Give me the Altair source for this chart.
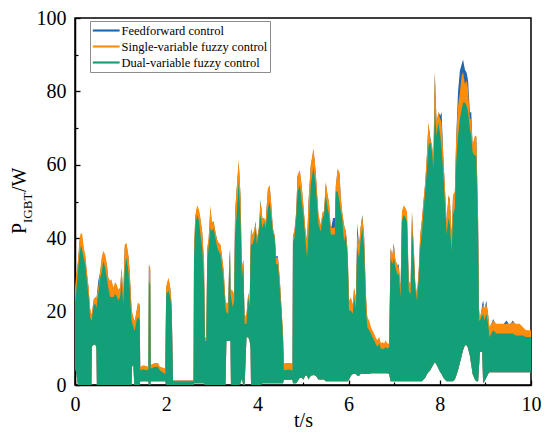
import altair as alt
import pandas as pd

# time axis (s)
t = [
    0.00, 0.03, 0.065, 0.10, 0.13, 0.16, 0.19, 0.225, 0.26, 0.30,
    0.33, 0.36, 0.37, 0.41, 0.45, 0.47, 0.48, 0.51, 0.55, 0.59,
    0.62, 0.66, 0.70, 0.73, 0.77, 0.80, 0.84, 0.88, 0.91, 0.95,
    0.99, 1.02, 1.06, 1.09, 1.13, 1.17, 1.20, 1.24, 1.25, 1.28,
    1.30, 1.31, 1.35, 1.38, 1.42, 1.43, 1.50, 1.56, 1.61, 1.62,
    1.65, 1.66, 1.75, 1.82, 1.86, 1.92, 1.98, 2.00, 2.05, 2.09,
    2.12, 2.15, 2.60, 2.61, 2.64, 2.68, 2.72, 2.75, 2.79, 2.83,
    2.85, 2.88, 2.90, 2.93, 2.97, 3.00, 3.04, 3.08, 3.12, 3.15,
    3.19, 3.22, 3.26, 3.30, 3.32, 3.36, 3.38, 3.40, 3.41, 3.42,
    3.46, 3.49, 3.51, 3.54, 3.59, 3.63, 3.66, 3.69, 3.72, 3.76,
    3.80, 3.83, 3.85, 3.86, 3.89, 3.93, 3.96, 3.99, 4.03, 4.07,
    4.11, 4.15, 4.18, 4.23, 4.27, 4.30, 4.34, 4.38, 4.41, 4.45,
    4.49, 4.52, 4.56, 4.58, 4.68, 4.77, 4.78, 4.81, 4.85, 4.88,
    4.93, 4.97, 5.01, 5.05, 5.09, 5.12, 5.17, 5.23, 5.28, 5.34,
    5.39, 5.43, 5.46, 5.50, 5.54, 5.57, 5.61, 5.66, 5.70, 5.72,
    5.76, 5.80, 5.83, 5.86, 5.90, 5.94, 5.98, 6.01, 6.05, 6.09,
    6.12, 6.16, 6.19, 6.23, 6.26, 6.30, 6.34, 6.38, 6.41, 6.45,
    6.49, 6.52, 6.56, 6.59, 6.63, 6.67, 6.71, 6.74, 6.78, 6.81,
    6.85, 6.89, 6.92, 6.96, 6.99, 7.03, 7.07, 7.10, 7.14, 7.17,
    7.21, 7.25, 7.28, 7.32, 7.36, 7.39, 7.43, 7.46, 7.50, 7.54,
    7.57, 7.61, 7.64, 7.68, 7.72, 7.75, 7.79, 7.83, 7.86, 7.89,
    7.93, 7.97, 8.01, 8.04, 8.08, 8.11, 8.15, 8.19, 8.22, 8.26,
    8.29, 8.33, 8.36, 8.40, 8.44, 8.48, 8.51, 8.55, 8.59, 8.62,
    8.66, 8.69, 8.72, 8.77, 8.80, 8.84, 8.86, 8.88, 8.91, 8.93,
    8.95, 8.98, 9.02, 9.06, 9.09, 9.17, 9.24, 9.31, 9.38, 9.46,
    9.53, 9.60, 9.67, 9.75, 9.82, 9.89, 10.0,
]

# upper envelope of the dual-variable fuzzy control trace (W)
green_hi = [
    22, 26, 31, 36, 38, 36.5, 34.7, 33, 28.4, 24,
    18.5, 17.6, 17.8, 22, 22, 21, 22, 25, 29, 31,
    33.8, 32, 29, 26.6, 24, 24, 24, 24.8, 24.3, 23,
    24, 28.4, 22, 32, 34.7, 31, 26.6, 17.6, 17, 15.8,
    15, 14.9, 17.6, 18.5, 17.6, 4, 4.3, 4, 4.2, 28.4,
    27, 4.5, 5, 5, 4, 3.5, 3, 24.8, 25.7, 23.9,
    20, 1, 1, 34.7, 43.7, 46.4, 44.6, 41, 37.4, 28.4,
    12, 12, 33.8, 37.4, 42.8, 41.9, 42.8, 40, 37.4, 36.5,
    35.6, 32.9, 28.4, 21.2, 19.8, 19.4, 30, 36.5, 24.8, 24,
    21.2, 23, 41, 45.5, 55.4, 45.5, 29.3, 32.9, 16.7, 16.7,
    23.9, 21.2, 35, 38.3, 38.3, 40, 42.8, 38.3, 41.9, 46.4,
    42.8, 44.6, 42.8, 48.2, 50, 46.4, 41.9, 40, 32.9, 32.9,
    26.6, 21.2, 13, 4, 4.2, 4, 39.2, 40, 45.5, 52.7,
    54.5, 50, 46.4, 40, 34.7, 41, 54.5, 59.5, 54.5, 43.7,
    41.9, 45.5, 46.4, 51.8, 48.2, 46.4, 41, 41, 41, 52.7,
    52.7, 50, 47.3, 45.5, 39.2, 41, 33.8, 20.3, 20.3, 19.4,
    23.9, 21.2, 37.4, 34.7, 39.2, 42.8, 37.4, 21.2, 15.8, 14.9,
    14, 13.1, 12.2, 11.3, 10.4, 11.3, 9.9, 9.9, 9.9, 10.4,
    9.9, 10.4, 34.7, 32.9, 34.7, 32, 30.2, 30.2, 23.9, 44.6,
    46.4, 45.5, 44.6, 25.7, 24.8, 42.8, 34.7, 26.6, 23, 29.3,
    37.4, 41.9, 47.3, 52.7, 59, 65.3, 66.2, 63.5, 59, 75,
    68, 71.6, 68, 64.4, 57.2, 50, 41, 45.5, 43.7, 36.5,
    46.4, 48.2, 60.8, 68, 72.5, 75.2, 77, 77, 76, 74.3,
    69.8, 68, 63.4, 62.5, 62.5, 41, 17.6, 17.6, 18.5, 19,
    19.4, 17.6, 19.4, 16.7, 13.1, 14.9, 14, 14, 14, 14,
    14, 14, 13.5, 13.5, 13.5, 13.1, 13.1,
]

# upper envelope of the single-variable fuzzy control trace (W)
orange_hi = [
    26, 31, 34, 40, 41.5, 41, 37.4, 35.6, 31, 26.6,
    21, 19.4, 19.6, 23.4, 23.9, 23.9, 24.5, 26.6, 31, 35,
    36.5, 35.6, 33, 29.3, 28.4, 28.8, 26.6, 28, 27.5, 26,
    26.6, 32, 25.2, 38.3, 38.7, 35.6, 31, 21.2, 20, 18.5,
    17.8, 17.6, 20.3, 22.5, 22, 5, 5.4, 5.2, 5, 33,
    32, 5.5, 6, 6, 5, 4.8, 4.5, 27, 29.3, 26.6,
    22, 1.2, 1.2, 37.4, 46.4, 49, 47.7, 45.5, 41.9, 33.8,
    13, 13, 37.4, 40, 49, 44.6, 44.2, 41.9, 39.2, 38.8,
    38.3, 35.6, 31.5, 23, 22.3, 22.5, 33, 36.5, 27, 26,
    25.7, 24.8, 47.3, 52.7, 61.3, 51.8, 32, 34, 18.5, 19.4,
    24.8, 22, 38.5, 42, 41, 42.3, 44.2, 40, 42.8, 50,
    45.5, 45.5, 44.6, 53.6, 54.5, 50, 42.8, 40.9, 34.7, 34.7,
    29.3, 23, 14.5, 5.9, 6, 5.9, 41, 41.9, 47.3, 57.2,
    58.6, 54.5, 49, 42.8, 39.2, 50, 60, 64.5, 58.1, 46.4,
    43.7, 47.3, 47.3, 55.4, 51.8, 50, 42.8, 42.8, 43, 54.5,
    59, 58, 51, 47.3, 43.7, 41.9, 36.5, 23, 23.9, 22,
    26.6, 23.9, 41, 38.3, 42.8, 45.9, 41, 24.8, 18.5, 17.6,
    15.8, 14.9, 14, 13.1, 12.2, 13.1, 11.3, 11.7, 11.3, 12.2,
    11.3, 11.3, 37.4, 35.6, 38.3, 33.8, 32.9, 32, 26.6, 47.3,
    49, 48.2, 47.3, 28.4, 27.5, 47.3, 37.4, 28.4, 24.8, 32,
    41, 45.5, 50, 55.4, 63.5, 71.6, 67.1, 65.3, 61.7, 85.5,
    71.6, 74.3, 72.5, 71.6, 61.7, 54.5, 44.6, 51.8, 50.9, 41,
    51.8, 52.7, 68, 76, 79.7, 84.4, 85.3, 82, 83, 80.6,
    72.5, 72.5, 65.5, 67.9, 67.9, 45.5, 21, 18.5, 20.3, 21,
    22, 21, 22, 19.4, 15.8, 17.6, 16.7, 16.7, 16.7, 16.7,
    16.7, 17.1, 16.7, 16.7, 15.8, 14.9, 14.9,
]

# upper envelope of the feedforward control trace (W)
blue_hi = [
    25, 30, 33, 39, 40.5, 40, 37, 35, 30.5, 26,
    20.5, 19, 19.2, 23, 24, 23.4, 24.5, 28.4, 30.5, 34.5,
    36, 35, 32.5, 29, 28, 28.3, 26.2, 27.5, 27, 25.5,
    26.2, 31.5, 24.8, 37.5, 38.2, 35, 30.5, 20.8, 19.6, 18.1,
    17.4, 17.2, 19.9, 22, 21.5, 4.8, 5.1, 5, 4.9, 32.5,
    31.5, 5.3, 5.8, 5.8, 4.8, 4.6, 4.3, 26.5, 28.8, 26.2,
    21.6, 1.2, 1.2, 37, 46, 48.5, 47.2, 45, 41.4, 33.3,
    12.8, 12.8, 37, 39.5, 48, 44.2, 44.6, 41.5, 39.5, 38.4,
    38, 35.2, 31, 22.6, 22, 22.1, 32.5, 37.4, 26.6, 25.6,
    25.3, 24.4, 46.8, 52.2, 60.8, 51.3, 31.6, 34.2, 18.1, 19,
    25.2, 21.6, 38, 42.8, 40.6, 41.9, 44.6, 39.6, 42.4, 50.5,
    45.1, 45.1, 44.2, 53.2, 54.1, 49.6, 42.4, 40.5, 35.1, 35.1,
    28.9, 22.6, 14.1, 5.5, 5.6, 5.5, 40.6, 41.5, 46.9, 56.8,
    58.2, 54.1, 48.6, 42.4, 38.8, 49.6, 59.6, 64, 57.7, 46,
    43.3, 46.9, 46.9, 55, 51.4, 49.6, 42.4, 45.5, 45.5, 54.1,
    58.6, 57.6, 50.6, 46.9, 43.3, 41.9, 36.1, 22.6, 23.5, 21.6,
    26.2, 23.5, 44.1, 37.9, 42.4, 46.4, 40.6, 24.4, 18.1, 17.2,
    15.4, 14.5, 13.6, 12.7, 11.8, 12.7, 10.9, 11.3, 10.9, 11.8,
    10.9, 10.9, 37, 35.2, 38.7, 33.4, 32.5, 32.9, 26.2, 46.9,
    48.6, 47.8, 46.9, 28, 27.1, 46.9, 37, 28, 24.4, 31.6,
    40.6, 45.1, 49.6, 55, 63.1, 71.2, 67.6, 64.9, 61.3, 85,
    71.2, 74.3, 73.4, 74.3, 61.3, 54.1, 44.2, 51.4, 50.5, 40.6,
    51.4, 52.3, 67.6, 80, 85.6, 87.4, 88.7, 86, 85, 83,
    74.3, 74.3, 65, 67.5, 67.5, 45.1, 20.6, 17.6, 19.9, 22,
    23, 20.6, 23, 19, 15.4, 18, 16.3, 16.3, 16.3, 17.6,
    16.3, 17.6, 16.3, 16.3, 15.4, 14.5, 14.5,
]

# lower envelope of the oscillating traces (W)
lower = [
    5, 3, 0, 0, 0, 0, 0, 0, 0, 0,
    0, 0, 10.5, 11, 11, 10, 0, 0, 0, 0,
    0, 0, 0, 0, 0, 0, 0, 0, 0, 0,
    0, 0, 0, 0, 0, 0, 0, 0, 5, 5.5,
    0, 0, 0, 0, 0, 1, 1, 1, 1, 0,
    0, 1, 1, 1, 1, 1, 1, 0, 0, 0,
    0, 0, 0, 0.5, 0.5, 0.5, 0.5, 0.5, 0.5, 0.5,
    0, 0, 0, 0, 0, 0, 0, 0, 0, 0,
    0, 0, 0, 0, 12, 12, 12, 12, 12, 0,
    0, 0, 0, 0, 0, 0.5, 1.8, 0, 0, 13,
    13, 12, 10, 0, 0, 0, 0, 0, 0, 0,
    0.5, 0.5, 0.5, 0.5, 0.5, 0.5, 0.5, 0.5, 0.5, 0.5,
    0.5, 0.5, 0.5, 1.4, 1.4, 1.4, 0.5, 0.5, 0.5, 1,
    2, 2, 1.5, 2.5, 2.5, 1.5, 2.5, 2.7, 2.5, 1.5,
    1.5, 1.5, 1.5, 1, 1, 1, 1, 1, 1, 1,
    1, 1, 1, 1, 1, 1, 1, 1.5, 2.5, 3,
    3, 3, 2.5, 2.5, 3, 3, 3, 3, 3, 3,
    3.2, 3.2, 3.2, 3.2, 3.2, 3.2, 3.2, 3.2, 3.2, 3.2,
    3.2, 3, 1, 1, 1, 1, 1, 1, 1, 1,
    1, 1, 1, 1, 1, 1, 1, 1, 1, 1,
    1, 1, 1.5, 2, 3, 3.5, 4, 5, 5.5, 6.3,
    5.5, 4.5, 3.5, 3, 2, 1.5, 1, 1, 1, 1,
    1, 1.5, 2.5, 4, 6, 8, 9.5, 10.8, 10.8, 10,
    8, 5.5, 3, 1.5, 1, 1, 5, 9, 9, 9,
    0.5, 1, 2, 3, 3.5, 3.5, 3.5, 3.5, 3.5, 3.5,
    3.5, 3.5, 3.5, 3.5, 3.5, 3.5, 3.5,
]

names = ["Feedforward control", "Single-variable fuzzy control", "Dual-variable fuzzy control"]
colors = ["#1f67b1", "#ff8c0a", "#13a079"]
x_ticks = [0, 2, 4, 6, 8, 10]
x_minor = [1, 3, 5, 7, 9]
y_ticks = [0, 20, 40, 60, 80, 100]
y_minor = [10, 30, 50, 70, 90]

assert len(t) == len(green_hi) == len(orange_hi) == len(blue_hi) == len(lower)

rows = []
for name, hi in zip(names, [blue_hi, orange_hi, green_hi]):
    for ti, h, lo in zip(t, hi, lower):
        rows.append({"series": name, "t": ti, "hi": h, "lo": lo})
df = pd.DataFrame(rows)

serif = "Liberation Serif"
W, H = 456, 367
xs = alt.Scale(domain=[0, 10], nice=False, zero=False)
ys = alt.Scale(domain=[0, 100], nice=False)
cs = alt.Scale(domain=names, range=colors)

leg = alt.Legend(
    title=None, orient="none", legendX=15, legendY=3, direction="vertical",
    symbolType="M-1,-0.16H3V0.16H-1Z", symbolSize=180, symbolStrokeWidth=0,
    symbolOpacity=1, labelFont=serif, labelFontSize=12.5, labelColor="black",
    labelFontWeight="normal", labelOffset=15, labelLimit=400, rowPadding=2,
    padding=2.5, strokeColor="#8c8c8c", fillColor="white",
)

ax_x_main = alt.Axis(
    orient="bottom", values=x_ticks, format="d", ticks=False, grid=False,
    domainColor="black", domainWidth=1.5, labelFont=serif, labelFontSize=20,
    labelColor="black", labelPadding=9, labelFlush=False, title="t/s",
    titleFont=serif, titleFontSize=20, titleFontWeight="normal",
    titleColor="black", titleBaseline="alphabetic", titlePadding=12,
)
ax_y_main = alt.Axis(
    orient="left", values=y_ticks, format="d", ticks=False, grid=False,
    domainColor="black", domainWidth=1.5, labelFont=serif, labelFontSize=20,
    labelColor="black", labelPadding=9, labelFlush=False, title="",
)
ax_x_major = alt.Axis(
    orient="bottom", values=x_ticks, labels=False, domain=False, grid=False,
    ticks=True, tickSize=5, tickWidth=1.3, tickColor="black", offset=-5, title="",
)
ax_y_major = alt.Axis(
    orient="left", values=y_ticks, labels=False, domain=False, grid=False,
    ticks=True, tickSize=5, tickWidth=1.3, tickColor="black", offset=-5, title="",
)
ax_x_minor = alt.Axis(
    orient="bottom", values=x_minor, labels=False, domain=False, grid=False,
    ticks=True, tickSize=3, tickWidth=1.2, tickColor="black", offset=-3, title="",
)
ax_y_minor = alt.Axis(
    orient="left", values=y_minor, labels=False, domain=False, grid=False,
    ticks=True, tickSize=3, tickWidth=1.2, tickColor="black", offset=-3, title="",
)


def area_layer(name, xaxis, yaxis):
    return (
        alt.Chart(df)
        .transform_filter(alt.datum.series == name)
        .mark_area(clip=True, interpolate="linear", strokeWidth=0, opacity=1)
        .encode(
            x=alt.X("t:Q", scale=xs, axis=xaxis),
            y=alt.Y("hi:Q", scale=ys, axis=yaxis),
            y2=alt.Y2("lo:Q"),
            color=alt.Color("series:N", scale=cs, legend=leg),
        )
    )


txt = pd.DataFrame({"k": [0]})


def title_part(s, size, x, y):
    return (
        alt.Chart(txt)
        .mark_text(text=s, font=serif, fontSize=size, angle=270, align="left",
                   baseline="alphabetic", color="black")
        .encode(x=alt.value(x), y=alt.value(y))
    )


# y-axis title "P_IGBT/W" built from pieces (subscript), rotated
chart = (
    alt.layer(
        area_layer(names[0], ax_x_main, ax_y_main),
        area_layer(names[1], ax_x_major, ax_y_major),
        area_layer(names[2], ax_x_minor, ax_y_minor),
        title_part("P", 20, -49, 216),
        title_part("IGBT", 13, -43, 205),
        title_part("/W", 20, -49, 174),
    )
    .resolve_axis(x="independent", y="independent")
    .properties(
        width=W, height=H,
        padding={"left": 67, "top": 10, "right": 534 - 67 - W, "bottom": 423 - 10 - H},
        autosize=alt.AutoSizeParams(type="none"),
        background="white",
    )
    .configure_view(stroke="black", strokeWidth=1.5)
)

chart.save("out.html", embed_options={"renderer": "svg", "actions": False})
